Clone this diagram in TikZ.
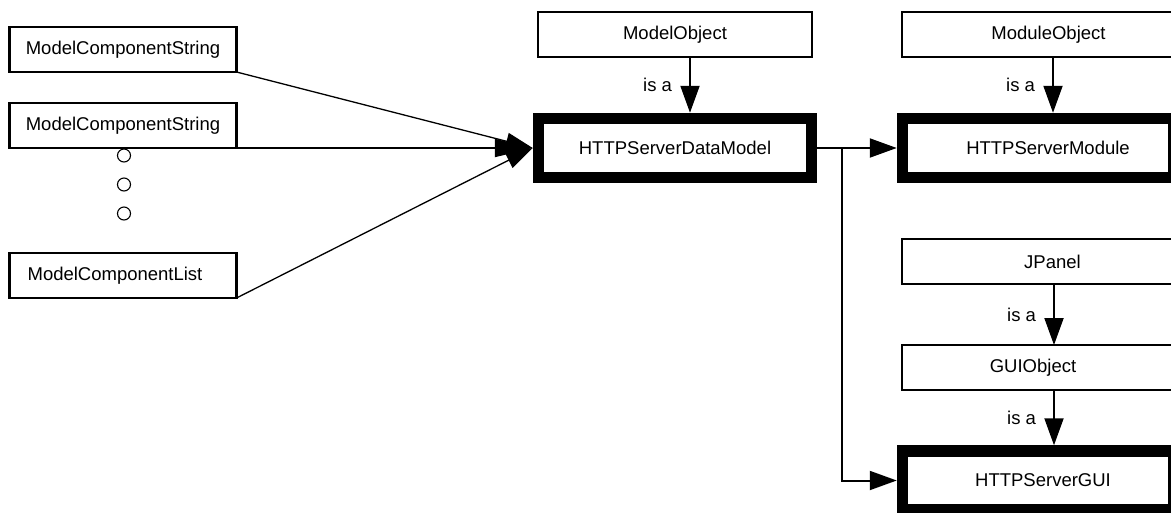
\documentclass[tikz,border=0pt]{standalone}
\usepackage{fontspec}
\setmainfont{Liberation Sans}
\usetikzlibrary{arrows.meta}
\begin{document}
\begin{tikzpicture}[x=1pt,y=-1pt,
  lbl/.style={font=\fontsize{18.5}{22}\selectfont},
  plainbox/.style={draw, line width=2.3pt, minimum height=45pt, inner sep=0pt, outer sep=0pt, lbl},
  thickbox/.style={draw, line width=11.5pt, minimum height=59pt, inner sep=0pt, lbl},
  dot/.style={draw, circle, line width=1.1pt, minimum size=13pt, inner sep=0pt},
  tip/.style={-{Triangle[length=27pt,width=19pt]}},
  link/.style={tip, line width=2pt},
  longlink/.style={-{Triangle[length=38pt,width=18pt]}, line width=2pt},
  slant/.style={-{Triangle[length=27pt,width=17pt]}, line width=1.3pt},
  isa/.style={lbl, anchor=east, inner sep=0pt, xshift=-17pt},
]
\useasboundingbox (0,0) rectangle (1171,512);
\clip (0,0) rectangle (1171,512);

% model components feeding the data model
\node[plainbox, minimum width=227pt] (mcs1) at (123,49.5) {ModelComponentString};
\node[plainbox, minimum width=227pt] (mcs2) at (123,125.5) {ModelComponentString};
\node[plainbox, minimum width=227pt] (mcl) at (123,275.5) {\hspace*{-16pt}ModelComponentList};
\node[dot] (c1) at (124,155.5) {};
\node[dot] (c2) at (124,184.5) {};
\node[dot] (c3) at (124,213.5) {};

% base classes
\node[plainbox, minimum width=274pt] (mo) at (675,34.5) {ModelObject};
\node[plainbox, minimum width=293pt] (mobj) at (1048.5,34.5) {ModuleObject};
\node[plainbox, minimum width=293pt] (jp) at (1048.5,261.5) {\hspace*{8pt}JPanel};
\node[plainbox, minimum width=293pt] (gobj) at (1048.5,367.5) {\hspace*{-31pt}GUIObject};

% server classes
\node[thickbox, minimum width=273pt] (dm) at (675,148) {HTTPServerDataModel};
\node[thickbox, minimum width=271pt] (mod) at (1038,148) {\hspace*{20pt}HTTPServerModule};
\node[thickbox, minimum width=271pt] (gui) at (1038,480.5) {\hspace*{10pt}HTTPServerGUI};

% components into the data model
\draw[longlink] (mcs2.south east) -- (dm.west);
\draw[slant] (mcs1.south east) -- (dm.west);
\draw[slant] (mcl.south east) -- (dm.west);

% inheritance
\draw[link] ([xshift=15pt]mo.south) -- node[isa] {is a} ([xshift=15pt]mo.south |- dm.north);
\draw[link] ([xshift=4.5pt]mobj.south) -- node[isa] {is a} ([xshift=4.5pt]mobj.south |- mod.north);
\draw[link] ([xshift=5.5pt]jp.south) -- node[isa] {is a} ([xshift=5.5pt]jp.south |- gobj.north);
\draw[link] ([xshift=5.5pt]gobj.south) -- node[isa] {is a} ([xshift=5.5pt]gobj.south |- gui.north);

% data model to module and GUI
\coordinate (fork) at ([xshift=25pt]dm.east);
\draw[link] (dm.east) -- (mod.west);
\draw[link] (fork) |- (gui.west);
\end{tikzpicture}
\end{document}
